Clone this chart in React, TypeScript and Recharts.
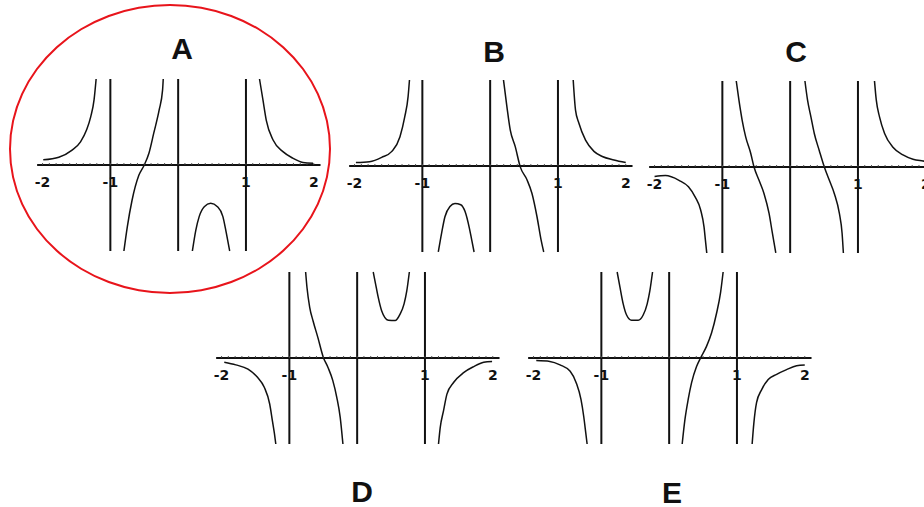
import { ComposedChart, Line, Scatter, XAxis, YAxis, ReferenceLine } from 'recharts';

type Pt = [number, number];

// curve branches, [x, y] with y in -10..10
const aLeft: Pt[] = [[-1.99, 0.6], [-1.76, 0.9], [-1.57, 1.7], [-1.44, 2.7], [-1.35, 4.1], [-1.29, 5.6], [-1.24, 7.6], [-1.21, 10]];
const aMid: Pt[] = [[-0.8, -10], [-0.75, -7.2], [-0.68, -4.1], [-0.58, -1.2], [-0.5, 0], [-0.43, 1.4], [-0.36, 3.7], [-0.28, 6.4], [-0.23, 8.7], [-0.22, 10]];
const aHump: Pt[] = [[0.21, -10], [0.26, -7.6], [0.31, -6.0], [0.385, -4.85], [0.48, -4.45], [0.58, -4.85], [0.66, -6.0], [0.71, -7.9], [0.76, -10]];
const aRight: Pt[] = [[1.2, 10], [1.25, 7.6], [1.3, 5.2], [1.4, 2.9], [1.545, 1.55], [1.69, 0.8], [1.84, 0.3], [1.99, 0.2]];

const bLeft: Pt[] = [[-1.98, 0.4], [-1.78, 0.5], [-1.6, 1.0], [-1.45, 1.7], [-1.33, 3.4], [-1.26, 5.7], [-1.21, 8.1], [-1.19, 10]];
const bHump: Pt[] = [[-0.765, -10], [-0.716, -7.8], [-0.667, -5.9], [-0.593, -4.7], [-0.519, -4.35], [-0.434, -4.5], [-0.37, -5.3], [-0.306, -7.25], [-0.272, -8.6], [-0.237, -10]];
const bMid: Pt[] = [[0.197, 10], [0.247, 6.9], [0.296, 4.2], [0.37, 2.25], [0.444, -0.1], [0.543, -1.6], [0.617, -3.2], [0.691, -5.9], [0.751, -8.6], [0.79, -10]];
const bRight: Pt[] = [[1.225, 10], [1.259, 6.5], [1.308, 5.0], [1.407, 3.0], [1.531, 1.7], [1.654, 1.1], [1.826, 0.7], [2.0, 0.4]];

const cLeft: Pt[] = [[-2.0, -1.1], [-1.84, -1.0], [-1.64, -1.55], [-1.5, -2.3], [-1.4, -3.5], [-1.32, -5.0], [-1.27, -7.0], [-1.25, -8.5], [-1.23, -10]];
const cMid1: Pt[] = [[-0.795, 10], [-0.756, 7.8], [-0.707, 5.4], [-0.656, 3.5], [-0.582, 1.6], [-0.533, 0], [-0.459, -1.55], [-0.385, -3.1], [-0.311, -5.4], [-0.262, -7.7], [-0.212, -10]];
const cMid2: Pt[] = [[0.218, 10], [0.256, 7.8], [0.307, 5.8], [0.356, 3.9], [0.43, 1.9], [0.504, 0], [0.578, -1.55], [0.652, -3.1], [0.726, -5.4], [0.766, -7.7], [0.785, -10]];
const cRight: Pt[] = [[1.244, 10], [1.27, 7.8], [1.319, 5.8], [1.393, 3.9], [1.516, 2.3], [1.664, 1.4], [1.812, 0.9], [1.96, 0.7], [2.0, 0.65]];

const dLeft: Pt[] = [[-1.96, -0.5], [-1.79, -0.8], [-1.61, -1.3], [-1.47, -2.25], [-1.37, -3.4], [-1.29, -5.35], [-1.25, -7.3], [-1.22, -8.8], [-1.2, -10]];
const dMid: Pt[] = [[-0.76, 10], [-0.74, 8.2], [-0.7, 5.9], [-0.65, 4.3], [-0.58, 2.4], [-0.5, 0.1], [-0.43, -1.1], [-0.36, -2.6], [-0.3, -4.6], [-0.25, -6.9], [-0.21, -10]];
const dHump: Pt[] = [[0.237, 10], [0.272, 8.6], [0.311, 7.05], [0.361, 5.5], [0.459, 4.4], [0.559, 4.35], [0.633, 5.1], [0.692, 6.3], [0.732, 7.8], [0.77, 10]];
const dRight: Pt[] = [[1.2, -10], [1.225, -8.1], [1.275, -6.1], [1.324, -4.2], [1.422, -2.85], [1.57, -1.7], [1.719, -1.0], [1.867, -0.5], [1.99, -0.4]];

const eLeft: Pt[] = [[-1.96, -0.3], [-1.76, -0.4], [-1.61, -0.8], [-1.46, -1.55], [-1.37, -2.9], [-1.3, -4.85], [-1.26, -6.8], [-1.23, -8.7], [-1.21, -10]];
const eHump: Pt[] = [[-0.767, 10], [-0.727, 8.3], [-0.678, 6.3], [-0.628, 5.0], [-0.555, 4.4], [-0.457, 4.4], [-0.383, 5.0], [-0.324, 6.3], [-0.285, 7.8], [-0.245, 10]];
const eMid: Pt[] = [[0.192, -10], [0.232, -7.2], [0.28, -4.85], [0.33, -2.9], [0.404, -1.0], [0.463, 0], [0.551, 1.35], [0.625, 2.9], [0.699, 5.2], [0.758, 7.6], [0.796, 10]];
const eRight: Pt[] = [[1.224, -10], [1.249, -7.6], [1.289, -5.2], [1.363, -3.7], [1.461, -2.5], [1.585, -1.9], [1.732, -1.35], [1.88, -0.9], [2.0, -0.8]];

const tickValues = [-2, -1, 1, 2];
const tickLabels = ['-2', '-1', '1', '2'];
const minorTicks = [
  -2, -1.9, -1.8, -1.7, -1.6, -1.5, -1.4, -1.3, -1.2, -1.1, -1, -0.9, -0.8, -0.7, -0.6, -0.5, -0.4, -0.3, -0.2, -0.1,
  0, 0.1, 0.2, 0.3, 0.4, 0.5, 0.6, 0.7, 0.8, 0.9, 1, 1.1, 1.2, 1.3, 1.4, 1.5, 1.6, 1.7, 1.8, 1.9, 2,
];
const asymptotes = [-1, 0, 1];

const panels = [
  { letter: 'A', branches: [aLeft, aMid, aHump, aRight], x0: 178.5, y0: 165, lx: 182, ly: 49 },
  { letter: 'B', branches: [bLeft, bHump, bMid, bRight], x0: 489.8, y0: 166, lx: 494, ly: 52 },
  { letter: 'C', branches: [cLeft, cMid1, cMid2, cRight], x0: 790.5, y0: 167, lx: 796, ly: 52 },
  { letter: 'D', branches: [dLeft, dMid, dHump, dRight], x0: 357, y0: 357.6, lx: 362, ly: 492 },
  { letter: 'E', branches: [eLeft, eHump, eMid, eRight], x0: 669.2, y0: 358.3, lx: 672, ly: 493 },
];

const X_UNIT = 67.8;
const Y_UNIT = 8.6;
const PAD = 5;
const X_MAX = 2.2;
const Y_MAX = 10;
const CHART_W = 2 * X_MAX * X_UNIT + 2 * PAD;
const CHART_H = 2 * Y_MAX * Y_UNIT + 2 * PAD;
const INK = '#111';

const tickData = tickValues.map((x, i) => ({ x, y: 0, label: tickLabels[i] }));
const minorData = minorTicks.map((x) => ({ x, y: 0 }));

function Panel({ branches, x0, y0 }: { branches: Pt[][]; x0: number; y0: number }) {
  return (
    <div style={{ position: 'absolute', left: x0 - PAD - X_MAX * X_UNIT, top: y0 - PAD - Y_MAX * Y_UNIT }}>
      <ComposedChart width={CHART_W} height={CHART_H} margin={{ top: PAD, right: PAD, bottom: PAD, left: PAD }}>
        <XAxis type="number" dataKey="x" domain={[-X_MAX, X_MAX]} hide />
        <YAxis type="number" domain={[-Y_MAX, Y_MAX]} hide />
        <ReferenceLine
          segment={[{ x: -2.08, y: 0 }, { x: 2.1, y: 0 }]}
          stroke={INK}
          strokeWidth={1.8}
        />
        {asymptotes.map((a) => (
          <ReferenceLine key={a} x={a} stroke={INK} strokeWidth={2} />
        ))}
        <Scatter
          data={minorData}
          dataKey="y"
          isAnimationActive={false}
          shape={(p: any) => (
            <line x1={p.cx} x2={p.cx} y1={p.cy} y2={p.cy - 2} stroke="#444" strokeWidth={0.9} />
          )}
        />
        <Scatter
          data={tickData}
          dataKey="y"
          isAnimationActive={false}
          shape={(p: any) => (
            <text
              x={p.cx}
              y={p.cy + 22}
              textAnchor="middle"
              fontFamily="DejaVu Sans"
              fontWeight="bold"
              fontSize={14}
              fill={INK}
            >
              {p.payload.label}
            </text>
          )}
        />
        {branches.map((b, i) => (
          <Line
            key={i}
            data={b.map(([x, y]) => ({ x, y }))}
            dataKey="y"
            type="monotone"
            stroke={INK}
            strokeWidth={1.5}
            dot={false}
            activeDot={false}
            isAnimationActive={false}
          />
        ))}
      </ComposedChart>
    </div>
  );
}

export default function App() {
  return (
    <div
      style={{
        position: 'absolute',
        left: 0,
        top: 0,
        width: 924,
        height: 507,
        overflow: 'hidden',
        background: '#fff',
      }}
    >
      {panels.map((p) => (
        <Panel key={p.letter} branches={p.branches} x0={p.x0} y0={p.y0} />
      ))}
      {panels.map((p) => (
        <div
          key={'t' + p.letter}
          style={{
            position: 'absolute',
            left: p.lx - 30,
            top: p.ly - 17,
            width: 60,
            height: 34,
            lineHeight: '34px',
            textAlign: 'center',
            fontFamily: '"Liberation Sans", Arial, sans-serif',
            fontWeight: 'bold',
            fontSize: 30,
            color: INK,
          }}
        >
          {p.letter}
        </div>
      ))}
      <div
        style={{
          position: 'absolute',
          left: 9,
          top: 4,
          width: 322,
          height: 290,
          boxSizing: 'border-box',
          border: '2.5px solid #e8141b',
          borderRadius: '50%',
        }}
      />
    </div>
  );
}
